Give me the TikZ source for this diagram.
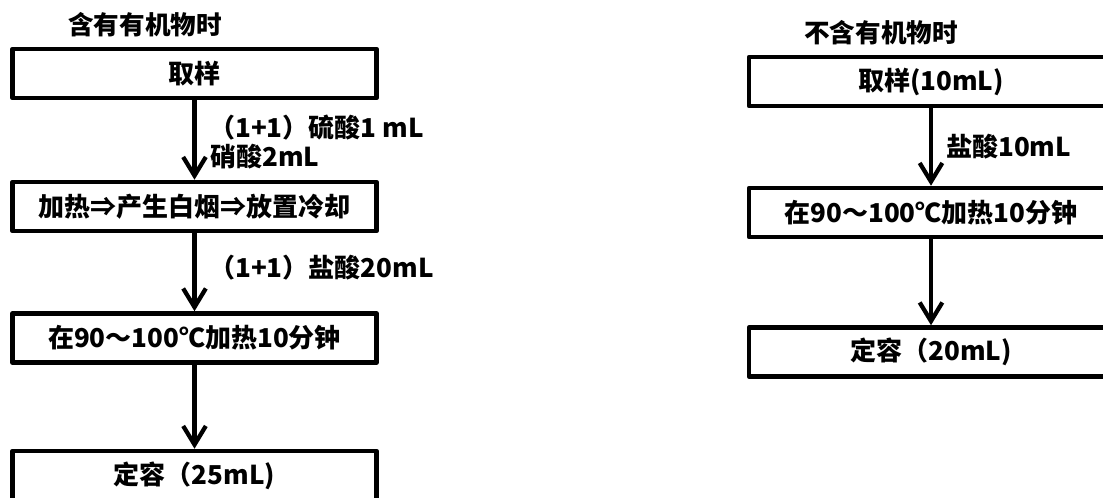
\documentclass[tikz,border=0pt]{standalone}
\usepackage{fontspec}
\setmainfont{Noto Sans CJK SC}
\usetikzlibrary{arrows.meta}
\begin{document}
\begin{tikzpicture}[x=0.75pt,y=-0.75pt,
  stepbox/.style={draw, line width=3.4pt, line join=round, minimum width=273pt, minimum height=36.75pt, inner sep=0pt, font=\bfseries\fontsize{19.5}{21}\selectfont},
  lbl/.style={anchor=west, inner sep=0pt, font=\bfseries\fontsize{19.5}{21}\selectfont},
  ttl/.style={inner sep=0pt, font=\bfseries\fontsize{19.2}{21}\selectfont},
  arr/.style={line width=3.2pt, -{Straight Barb[length=14pt, width=17pt, line join=miter]}}]
\useasboundingbox (0,0) rectangle (1103,498);
\begin{scope}
\clip (0,0) rectangle (1103,498);
\node[ttl] (tL) at (145,25) {含有有机物时};
\node[stepbox] (L1) at (194.5,73.5) {取样};
\node[stepbox] (L2) at (194.5,206.5) {加热⇒产生白烟⇒放置冷却};
\node[stepbox] (L3) at (194.5,338) {在90～100℃加热10分钟};
\node[stepbox] (L4) at (194.5,475.5) {定容（25mL)};
\draw[arr] (L1) -- (L2);
\draw[arr] (L2) -- (L3);
\draw[arr] (L3) -- (L4);
\node[lbl] (a1) at (209,128) {（1+1）硫酸1 mL};
\node[lbl] (a2) at (210,157) {硝酸2mL};
\node[lbl] (a3) at (209,268) {（1+1）盐酸20mL};

\node[ttl] (tR) at (881,33) {不含有机物时};
\node[stepbox] (R1) at (931,81.5) {取样(10mL)};
\node[stepbox] (R2) at (931,212.5) {在90～100℃加热10分钟};
\node[stepbox] (R3) at (931,352) {定容（20mL)};
\draw[arr] (R1) -- (R2);
\draw[arr] (R2) -- (R3);
\node[lbl] (b1) at (946,147) {盐酸10mL};
\end{scope}
\end{tikzpicture}
\end{document}
